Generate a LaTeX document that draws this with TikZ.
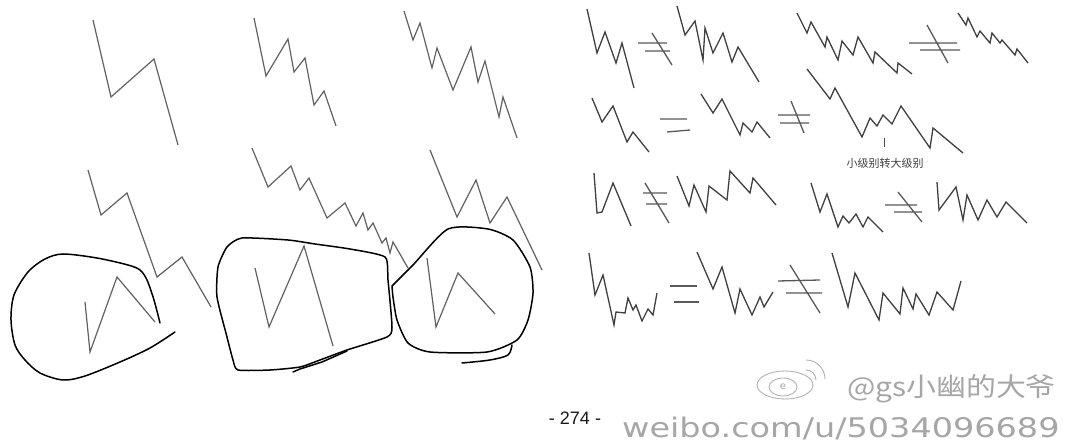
\documentclass[tikz,border=0pt]{standalone}
\usepackage{fontspec}
\setmainfont{Liberation Sans}
\newfontfamily\cjk{Noto Sans CJK SC}
\newfontfamily\wmfont{DejaVu Sans}
\begin{document}
\begin{tikzpicture}[x=1pt,y=-1pt,
  zz/.style={draw=black!62,line width=1.2pt,line join=miter},
  rz/.style={draw=black!75,line width=1.3pt,line join=miter},
  sign/.style={draw=black!65,line width=1.3pt},
  loopline/.style={draw=black,line width=1.5pt,line join=round,line cap=round},
  logo/.style={draw=black!30,line width=0.9pt},
  wm/.style={text=black!35,inner sep=0pt}]
\useasboundingbox[fill=white] (0,0) rectangle (1069,446);
% ---------------- left block: row 1
\draw[zz] (93,20) -- (111,97) -- (154,59) -- (178,145);
\draw[zz] (254,18) -- (266,76) -- (288,39) -- (294,72) -- (305,58) -- (314,105) -- (324,91) -- (336,126);
\draw[zz] (404,11) -- (413,40) -- (420,23) -- (432,68) -- (437,48) -- (453,90) -- (471,47) -- (478,82) -- (485,61) -- (499,117) -- (503,97) -- (517,138);
% ---------------- left block: row 2
\draw[zz] (88,170) -- (101,215) -- (127,193) -- (157,277) -- (182,257) -- (211,307);
\draw[zz] (252,148) -- (268,187) -- (291,166) -- (300,190) -- (309,178) -- (327,218) -- (345,203) -- (356,226) -- (363,213) -- (368,230) -- (373,223) -- (382,243) -- (386,238) -- (390,253) -- (393,242) -- (408,268);
\draw[zz] (430,150) -- (457,217) -- (476,180) -- (490,223) -- (507,197) -- (542,270);
% ---------------- circled patterns
\draw[zz] (85,302) -- (90,352) -- (117,277) -- (155,322);
\draw[zz] (255,268) -- (269,327) -- (304,246) -- (333,346);
\draw[zz] (427,258) -- (436,327) -- (458,273) -- (495,314);
% left loop (open)
\draw[loopline] plot[smooth,tension=0.5] coordinates {(160,323) (154,300) (147,280) (140,270) (128,265) (97,258) (63,254) (45,259) (28,272) (14,295) (11,320) (15,345) (25,360) (40,373) (63,380) (85,376) (120,362) (150,348) (175,332)};
% middle loop
\draw[loopline] plot[smooth cycle,tension=0.35] coordinates {(242,238) (288,240) (315,244) (350,249) (385,257) (388,280) (392,327) (387,337) (347,350) (320,360) (300,367) (270,370) (238,370) (233,360) (227,337) (217,297) (218,267) (227,247)};
\draw[loopline] (293,372) -- (300,369) -- (322,362) -- (347,351);
% right loop
\draw[loopline] plot[smooth,tension=0.4] coordinates {(392,286) (413,265) (448,229) (488,229) (513,240) (530,267) (533,293) (528,320) (517,340) (487,352) (430,352) (408,343) (397,320) (393,297) (392,286)};
\draw[loopline] plot[smooth,tension=0.5] coordinates {(512,345) (508,355) (490,360) (462,363)};
% ---------------- right block: row 1
\draw[rz] (587,9) -- (597,53) -- (605,32) -- (616,63) -- (622,43) -- (634,88);
\draw[sign] (638,43) -- (667,43) (645,51) -- (670,51) (652,33) -- (672,65);
\draw[rz] (677,6) -- (685,35) -- (695,21) -- (703,60) -- (705,28) -- (713,53) -- (723,33) -- (732,62) -- (738,47) -- (759,82);
\draw[rz] (797,13) -- (807,33) -- (811,22) -- (825,47) -- (827,37) -- (838,60) -- (842,41) -- (853,55) -- (858,37) -- (873,63) -- (875,52) -- (897,73) -- (898,63) -- (912,74);
\draw[sign] (909,43) -- (957,43) (920,50) -- (960,50) (927,25) -- (948,63);
\draw[rz] (958,13) -- (966,25) -- (968,18) -- (977,37) -- (980,31) -- (990,43) -- (992,33) -- (1000,43) -- (1002,40) -- (1015,55) -- (1017,49) -- (1028,63);
% row 2
\draw[rz] (592,98) -- (602,122) -- (613,106) -- (627,142) -- (633,132) -- (649,152);
\draw[sign] (660,119) -- (687,119) (667,132) -- (690,130);
\draw[rz] (701,94) -- (713,113) -- (722,99) -- (740,135) -- (743,123) -- (752,132) -- (757,122) -- (770,138);
\draw[sign] (778,115) -- (810,115) (780,123) -- (809,123) (791,101) -- (804,133);
\draw[rz] (807,69) -- (830,99) -- (835,88) -- (862,137) -- (870,118) -- (877,126) -- (883,115) -- (892,124) -- (901,106) -- (930,148) -- (933,128) -- (963,153);
\draw[draw=black!70,line width=1pt] (884,138) -- (884,147);
\node[font=\cjk\fontsize{11}{11}\selectfont,text=black!75,inner sep=0pt] (lbl) at (885,163) {小级别转大级别};
\node[font=\fontsize{8}{8}\selectfont,text=black!40,inner sep=0pt,anchor=west] (dots) at (lbl.east) {$\cdot\cdot$};
% row 3
\draw[rz] (594,173) -- (597,213) -- (602,212) -- (613,183) -- (631,226);
\draw[sign] (643,193) -- (667,193) (646,204) -- (667,204) (645,183) -- (669,223);
\draw[rz] (677,176) -- (689,206) -- (694,185) -- (706,212) -- (709,186) -- (727,200) -- (730,171) -- (750,193) -- (753,178) -- (776,205);
\draw[rz] (811,183) -- (820,212) -- (827,194) -- (838,227) -- (843,216) -- (849,223) -- (856,214) -- (863,227) -- (868,217) -- (883,232);
\draw[sign] (885,205) -- (917,205) (894,212) -- (922,212) (898,192) -- (922,222);
\draw[rz] (937,182) -- (939,210) -- (956,187) -- (963,220) -- (967,195) -- (978,220) -- (987,200) -- (997,217) -- (1006,202) -- (1027,223);
% row 4
\draw[rz] (589,253) -- (595,295) -- (603,275) -- (614,325) -- (616,312) -- (625,313) -- (628,298) -- (633,310) -- (636,305) -- (642,321) -- (648,309) -- (653,315) -- (657,293);
\draw[sign] (670,286) -- (697,286) (674,302) -- (699,302);
\draw[rz] (697,252) -- (713,289) -- (722,267) -- (735,313) -- (740,289) -- (752,315) -- (760,297) -- (764,307) -- (773,292);
\draw[sign] (778,281) -- (820,280) (786,293) -- (822,293) (790,265) -- (820,313);
\draw[rz] (832,253) -- (848,307) -- (855,273) -- (879,320) -- (883,293) -- (900,314) -- (903,288) -- (913,309) -- (916,294) -- (929,315) -- (937,292) -- (953,310) -- (961,281);
% ---------------- page number and watermark
\node[font=\fontsize{18}{18}\selectfont,inner sep=0pt,text=black!90] (page) at (575,418) {- 274 -};
\draw[logo] (785,385) ellipse (28 and 14);
\draw[logo] (783,387) ellipse (14 and 9);
\node[wm,font=\wmfont\fontsize{10}{10}\selectfont] (logoe) at (783,387) {e};
\draw[logo] (806,370) arc (-90:0:10);
\draw[logo] (806,360) arc (-90:0:19);
\node[wm,font=\cjk\fontsize{26}{26}\selectfont,anchor=base west] (user) at (847,397) {\scalebox{1.15}[1]{@gs小幽的大爷}};
\node[wm,font=\wmfont\fontsize{27}{27}\selectfont,anchor=base west] (url) at (622,438) {\scalebox{1.24}[1]{weibo.com/u/5034096689}};
\end{tikzpicture}
\end{document}
